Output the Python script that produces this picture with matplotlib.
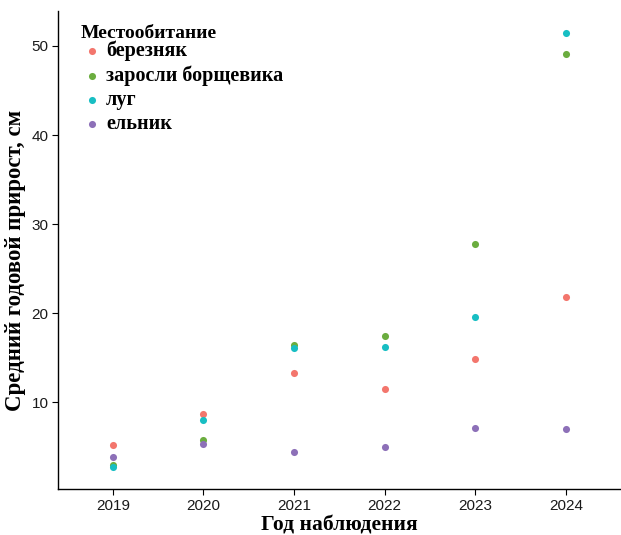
import matplotlib
matplotlib.use("Agg")
import matplotlib.pyplot as plt

years = ["2019", "2020", "2021", "2022", "2023", "2024"]
habitats = ["березняк", "заросли борщевика", "луг", "ельник"]
colors = ["#F3766D", "#6BAD3F", "#18BEC3", "#8D70B8"]

# mean annual growth, cm
bereznyak = [5.2, 8.7, 13.3, 11.5, 14.9, 21.8]
borshchevik = [2.9, 5.8, 16.4, 17.4, 27.8, 49.1]
lug = [2.7, 8.0, 16.1, 16.2, 19.6, 51.5]
elnik = [3.8, 5.3, 4.4, 5.0, 7.1, 7.0]
series = [bereznyak, borshchevik, lug, elnik]

fig = plt.figure(figsize=(6.21, 5.35), dpi=100)
ax = fig.add_axes([0.094, 0.086, 0.905, 0.893])

xs = list(range(len(years)))
for name, vals, c in zip(habitats, series, colors):
    ax.scatter(xs, vals, s=26, color=c, label=name, zorder=3, linewidths=0)

ax.set_xlim(-0.6, len(years) - 1 + 0.6)
ax.set_ylim(0.26, 53.9)
ax.set_xticks(xs)
ax.set_xticklabels(years)
ax.set_yticks([10, 20, 30, 40, 50])

for side in ["top", "right"]:
    ax.spines[side].set_visible(False)
for side in ["left", "bottom"]:
    ax.spines[side].set_linewidth(1.0)
ax.tick_params(length=4, width=0.8, labelsize=11, colors="black", pad=3)
for lab in ax.get_xticklabels() + ax.get_yticklabels():
    lab.set_family("Liberation Sans")
    lab.set_color("#1a1a1a")

ax.set_xlabel("Год наблюдения", family="Liberation Serif", fontweight="bold",
              fontsize=15.5, labelpad=2)
ax.set_ylabel("Средний годовой прирост, см", family="Liberation Serif",
              fontweight="bold", fontsize=16.5)
ax.yaxis.set_label_coords(-0.057, 0.479)

leg = ax.legend(title="Местообитание", loc="upper left",
                bbox_to_anchor=(0.015, 1.0), frameon=False,
                prop={"family": "Liberation Serif", "weight": "bold", "size": 14.5},
                title_fontproperties={"family": "Liberation Serif", "weight": "bold", "size": 14},
                handletextpad=0.15, labelspacing=0.2, borderpad=0.2,
                handlelength=1.1, markerscale=1.0)
leg._legend_box.align = "left"
leg._legend_box.sep = -1

fig.savefig("out.png", dpi=100)
